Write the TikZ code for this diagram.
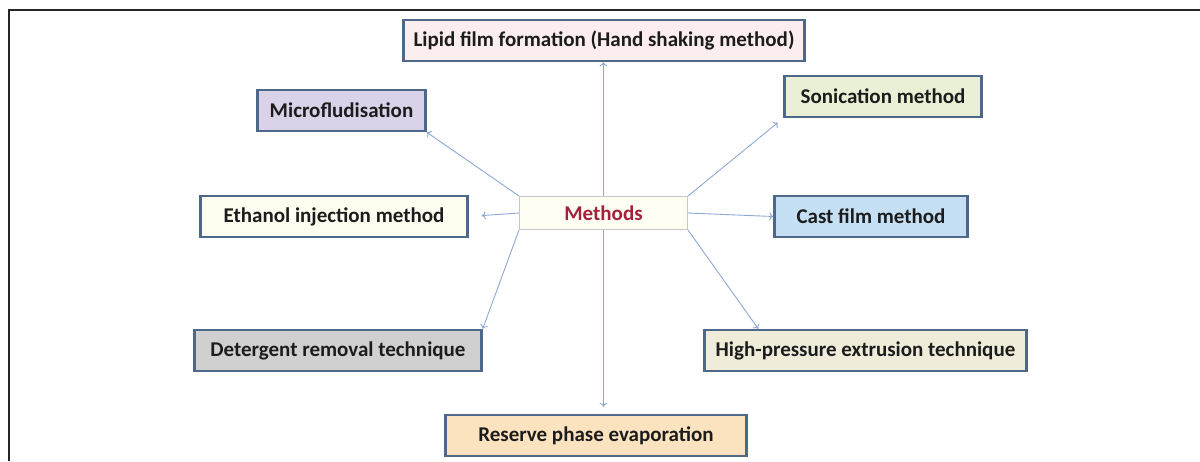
\documentclass[tikz,border=0pt]{standalone}
\usepackage{fontspec}
\setmainfont{Carlito}
\usepackage{xcolor}
\usetikzlibrary{arrows.meta}

\definecolor{boxline}{HTML}{4E6889}
\definecolor{linkblue}{HTML}{8EA8D6}
\definecolor{textdark}{HTML}{1C1C1C}
\definecolor{methodred}{HTML}{A3213D}

\begin{document}
\begin{tikzpicture}[x=1pt, y=-1pt, % one unit = one pixel of the layout
        box/.style={draw=boxline, line width=2.5pt, minimum height=41pt, inner sep=0pt,
                    text=textdark, font=\fontsize{21}{24}\selectfont\bfseries},
        link/.style={draw=linkblue, line width=0.9pt, -{To[length=4pt,width=8pt]}}]
        \useasboundingbox (0,0) rectangle (1200,461);

        % Frame
        \draw[line width=1.5pt, black!85] (9,461) -- (9,10) -- (1200,10);

        % Centre
        \node[draw=gray!45, line width=1pt, fill={rgb,255:red,255;green,254;blue,243},
              minimum width=168pt, minimum height=33pt, inner sep=0pt,
              text=methodred, font=\fontsize{21}{24}\selectfont\bfseries] (methods) at (603.5,213) {Methods};

        % Methods boxes
        \node[box, fill={rgb,255:red,252;green,238;blue,238}, minimum width=401pt] (lipid) at (604,40.5) {Lipid film formation (Hand shaking method)};
        \node[box, fill={rgb,255:red,218;green,210;blue,233}, minimum width=168pt] (micro) at (341.5,110.5) {Microfludisation};
        \node[box, fill={rgb,255:red,234;green,240;blue,213}, minimum width=197pt] (sonic) at (883,96.5) {Sonication method};
        \node[box, fill={rgb,255:red,254;green,253;blue,240}, minimum width=267pt] (ethanol) at (334,216.5) {Ethanol injection method};
        \node[box, fill={rgb,255:red,197;green,223;blue,244}, minimum width=193pt] (cast) at (871,216.5) {Cast film method};
        \node[box, fill={rgb,255:red,208;green,208;blue,208}, minimum width=287pt] (deterg) at (338,350.5) {Detergent removal technique};
        \node[box, fill={rgb,255:red,239;green,237;blue,218}, minimum width=322pt] (highp) at (865.5,350.5) {High-pressure extrusion technique};
        \node[box, fill={rgb,255:red,251;green,227;blue,192}, minimum width=301pt] (reserve) at (596,435.5) {Reserve phase evaporation};

        % Links
        \draw[link] (methods.north) -- (methods.north |- lipid.south);
        \draw[link] (methods.north west) -- (micro.south east);
        \draw[link, shorten >=7pt] (methods.north east) -- (sonic.south west);
        \draw[link, shorten >=13pt] (methods.west) -- (ethanol.east);
        \draw[link] (methods.east) -- (cast.west);
        \draw[link] (methods.south west) -- (deterg.north east);
        \draw[link] (methods.south east) -- ([xshift=55pt]highp.north west);
        \draw[link, shorten >=7pt] (methods.south) -- (methods.south |- reserve.north);
\end{tikzpicture}
\end{document}
